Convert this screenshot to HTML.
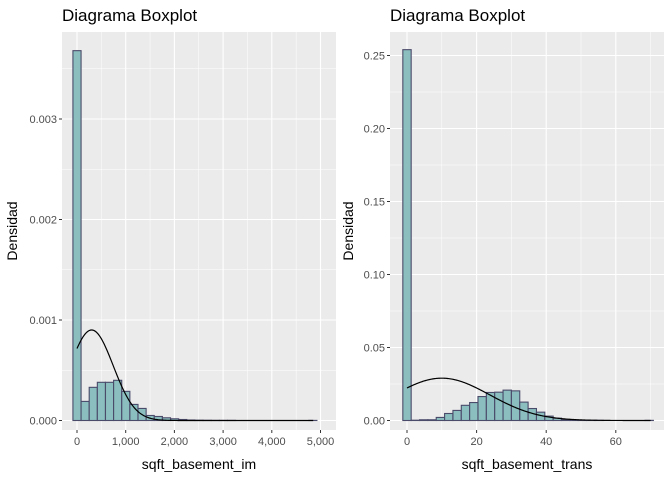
<!DOCTYPE html>
<html><head><meta charset="utf-8"><style>
body{margin:0;background:#fff;width:672px;height:480px;overflow:hidden}
svg{font-family:"Liberation Sans",sans-serif}
</style></head><body>
<svg id="s" width="672" height="480"></svg>
<script>
// Left panel data (sqft_basement_im)
const leftBinStart = -83.5;
const leftBinWidth = 167;
const leftDensities = [0.00368,0.00019,0.00033,0.00038,0.00038,0.0004,0.00029,0.00016,0.00012,0.00005,0.00004,0.000027,0.000017,0.00001,0.000005,0.000003,0.000002,0.000001,0.000001,0.000001,0,0,0,0,0,0,0,0,0,0.000001];
const leftMean = 300, leftSd = 443, leftCurveMax = 4850;
const leftXTicks = [0,1000,2000,3000,4000,5000];
const leftXTickLabels = ["0","1,000","2,000","3,000","4,000","5,000"];
const leftYTicks = [0,0.001,0.002,0.003];
const leftYTickLabels = ["0.000","0.001","0.002","0.003"];
// Right panel data (sqft_basement_trans)
const rightBinStart = -1.2;
const rightBinWidth = 2.4;
const rightDensities = [0.254,0.0002,0.0005,0.0005,0.0021,0.0048,0.0069,0.0104,0.0123,0.0164,0.0192,0.0194,0.0208,0.0203,0.0126,0.0082,0.0057,0.003,0.0016,0.0007,0.0003,0.0002,0.0001,0.0001,0,0,0,0,0,0.0001];
const rightMean = 10, rightSd = 13.76, rightCurveMax = 70;
const rightXTicks = [0,20,40,60];
const rightXTickLabels = ["0","20","40","60"];
const rightYTicks = [0,0.05,0.1,0.15,0.2,0.25];
const rightYTickLabels = ["0.00","0.05","0.10","0.15","0.20","0.25"];

const NS="http://www.w3.org/2000/svg", svg=document.getElementById('s');
function mk(t,a,p){const e=document.createElementNS(NS,t);for(const k in a)e.setAttribute(k,a[k]);(p||svg).appendChild(e);return e;}

function panel(o){
  const g=mk('g',{});
  
  
  const bg=mk('rect',{x:o.x0,y:32,width:o.x1-o.x0,height:398,fill:'#ebebeb'},g);
  
  
  const X=v=>o.xz+v*o.xs, Y=v=>420.5-v*o.ys;
  for(let i=0;i<o.xt.length;i++){const m=o.xt[i]+(o.xt[1]-o.xt[0])/2;const px=X(m);if(px<o.x1)mk('line',{x1:px,x2:px,y1:32,y2:430,stroke:'#fff','stroke-width':0.5},g);}
  const mx=X(o.xt[0]-(o.xt[1]-o.xt[0])/2); if(mx>o.x0) mk('line',{x1:mx,x2:mx,y1:32,y2:430,stroke:'#fff','stroke-width':0.5},g);
  for(let i=0;i<o.yt.length;i++){const m=o.yt[i]+(o.yt[1]-o.yt[0])/2;const py=Y(m);if(py>32)mk('line',{x1:o.x0,x2:o.x1,y1:py,y2:py,stroke:'#fff','stroke-width':0.5},g);}
  o.xt.forEach((v,i)=>{const px=X(v);
    mk('line',{x1:px,x2:px,y1:32,y2:430,stroke:'#fff','stroke-width':1.1},g);
    mk('line',{x1:px,x2:px,y1:430,y2:433,stroke:'#333','stroke-width':1},g);
    const t=mk('text',{x:px,y:445,'text-anchor':'middle','font-size':11,fill:'#4d4d4d'},g);t.textContent=o.xl[i];
    
    });
  o.yt.forEach((v,i)=>{const py=Y(v);
    mk('line',{x1:o.x0,x2:o.x1,y1:py,y2:py,stroke:'#fff','stroke-width':1.1},g);
    mk('line',{x1:o.x0-3,x2:o.x0,y1:py,y2:py,stroke:'#333','stroke-width':1},g);
    const t=mk('text',{x:o.x0-5,y:py+4,'text-anchor':'end','font-size':11,fill:'#4d4d4d'},g);t.textContent=o.yl[i];
    
    });
  o.d.forEach((v,i)=>{const a=X(o.bs+i*o.bw),b=X(o.bs+(i+1)*o.bw);
    const r=mk('rect',{x:a,y:Y(v),width:b-a,height:Y(0)-Y(v),fill:'#86bcbc','fill-opacity':0.95,stroke:'#4a4a6a','stroke-width':1.1},g);
    
    });
  let p='';for(let k=0;k<=300;k++){const v=o.cm*k/300;const d=Math.exp(-((v-o.mu)**2)/(2*o.sd*o.sd))/(o.sd*Math.sqrt(2*Math.PI));p+=(k?'L':'M')+X(v).toFixed(2)+','+Y(d).toFixed(2);}
  const c=mk('path',{d:p,fill:'none',stroke:'#000','stroke-width':1.2},g);
  
  
  const ti=mk('text',{x:o.x0,y:21,'font-size':17,fill:'#000'},g);ti.textContent='Diagrama Boxplot';
  
  
  const xt=mk('text',{x:(o.x0+o.x1)/2,y:469,'text-anchor':'middle','font-size':14,fill:'#000'},g);xt.textContent=o.xtitle;
  
  
  const yt=mk('text',{x:0,y:0,'text-anchor':'middle','font-size':14,fill:'#000',transform:`translate(${o.ytx},231) rotate(-90)`},g);yt.textContent='Densidad';
  
  
}
panel({name:'left-panel',x0:62,x1:336,xz:77,xs:0.0487,ys:100500,xt:leftXTicks,xl:leftXTickLabels,yt:leftYTicks,yl:leftYTickLabels,d:leftDensities,bs:leftBinStart,bw:leftBinWidth,mu:leftMean,sd:leftSd,cm:leftCurveMax,xtitle:'sqft_basement_im',ytx:17});
panel({name:'right-panel',x0:390,x1:664,xz:407,xs:3.48,ys:1460,xt:rightXTicks,xl:rightXTickLabels,yt:rightYTicks,yl:rightYTickLabels,d:rightDensities,bs:rightBinStart,bw:rightBinWidth,mu:rightMean,sd:rightSd,cm:rightCurveMax,xtitle:'sqft_basement_trans',ytx:353});
</script>
</body></html>
